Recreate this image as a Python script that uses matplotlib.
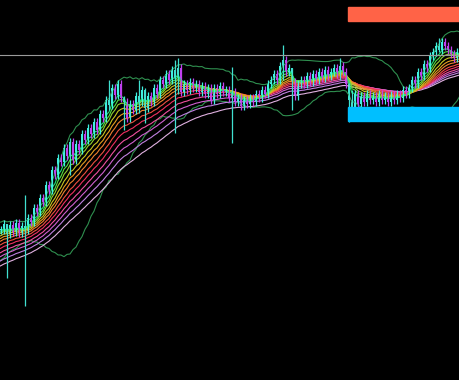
import numpy as np
import pandas as pd
import matplotlib
matplotlib.use("Agg")
import matplotlib.pyplot as plt
from matplotlib.patches import Rectangle

# closes before the visible window (only feed the averages)
warmup = [60, 64, 61, 66, 68, 65, 70, 73, 70, 75, 78, 75, 80, 83, 80, 85,
          88, 85, 90, 93, 90, 95, 98, 100, 97, 102, 105, 108, 104, 110,
          118, 122, 120, 126, 130, 133, 130, 135, 138, 140, 137, 142, 144, 146,
          143, 147, 150, 146, 152, 150]

# visible closes, one per candle
closes = [150, 156, 146, 155, 148, 157, 147, 154, 150,
          162, 158, 172, 168, 182, 178, 195, 190, 210, 205, 222, 218,
          232, 224, 238, 220, 236, 230, 246, 240, 252, 246, 258,
          250, 266, 262, 280, 275, 292, 285, 296, 282,
          278, 262, 276, 270, 284, 278, 290, 272, 284, 278,
          292, 286, 300, 296, 306, 300, 310, 302, 312, 288,
          296, 290, 298, 292, 296, 288, 294, 286, 292, 280,
          292, 286, 294, 288, 290, 282, 288, 278, 282, 274,
          280, 276, 282, 278, 286, 282, 290, 286, 296, 300,
          306, 300, 314, 320, 308, 312, 298, 284, 296, 300,
          296, 304, 298, 306, 300, 308, 302, 310, 304, 308,
          312, 306, 314, 308, 296, 280, 268, 286, 276, 284,
          278, 286, 280, 284, 278, 286, 280, 284, 278, 285,
          280, 286, 282, 290, 286, 292, 300, 296, 308, 304,
          316, 312, 324, 328, 334, 330, 338, 334, 330, 326, 322, 328, 324]

# long shadows: candle index -> (high, low)
spikes = {2: (156, 102), 8: (185, 74), 23: (242, 205), 36: (300, 270),
          41: (284, 250), 46: (300, 267), 48: (292, 257), 58: (320, 247),
          59: (322, 286), 77: (313, 237), 94: (335, 300), 97: (312, 270),
          113: (322, 300), 116: (297, 258), 117: (290, 262), 146: (342, 328)}

ema_periods = [5, 7, 9, 12, 15, 18, 22, 26, 31, 36, 42, 50]
ema_colors = ["#20e070", "#50e040", "#90d030", "#c8c820", "#e8a020", "#f08030",
              "#f05040", "#f03060", "#f050a0", "#d060d0", "#c080e0", "#e0b0e0"]

level_line = 325
sell_zone = (359, 373)
buy_zone = (259, 273)
zone_start = 115.7

all_close = pd.Series(warmup + closes, dtype=float)
n0 = len(warmup)
x = np.arange(-n0, len(closes))

fig = plt.figure(figsize=(4.6, 3.8), dpi=100, facecolor="black")
ax = fig.add_axes([0, 0, 1, 1])
ax.set_facecolor("black")

# bollinger bands
mid = all_close.rolling(20).mean()
sd = all_close.rolling(20).std(ddof=0)
ax.plot(x, mid + 2 * sd, color="#2f8f4f", lw=0.8)
ax.plot(x, mid - 2 * sd, color="#2f8f4f", lw=0.8)

# ribbon, slow lines first so fast ones sit on top
for p, c in reversed(list(zip(ema_periods, ema_colors))):
    ax.plot(x, all_close.ewm(span=p, adjust=False).mean(), color=c, lw=0.8)

# candles
opens = [all_close[n0 - 1]] + closes[:-1]
for i, (o, c) in enumerate(zip(opens, closes)):
    col = "#40f0e0" if c >= o else "#c040f0"
    hi, lo = spikes.get(i, (max(o, c) + 4, min(o, c) - 4))
    if i in spikes:
        col = "#40e0d0"
    ax.vlines(i, lo, hi, color=col, lw=0.9)
    ax.bar(i, max(abs(c - o), 1), bottom=min(o, c), width=0.5, color=col)

ax.axhline(level_line, color="#9a9a9a", lw=0.8)
ax.add_patch(Rectangle((zone_start, sell_zone[0]), 200, sell_zone[1] - sell_zone[0],
                       color="#ff6347", zorder=5))
ax.add_patch(Rectangle((zone_start, buy_zone[0]), 200, buy_zone[1] - buy_zone[0],
                       color="#00bfff", zorder=5))

ax.set_xlim(-1 / 3, 153)
ax.set_ylim(0, 380)
ax.axis("off")
fig.savefig("out.png", dpi=100, facecolor="black")
